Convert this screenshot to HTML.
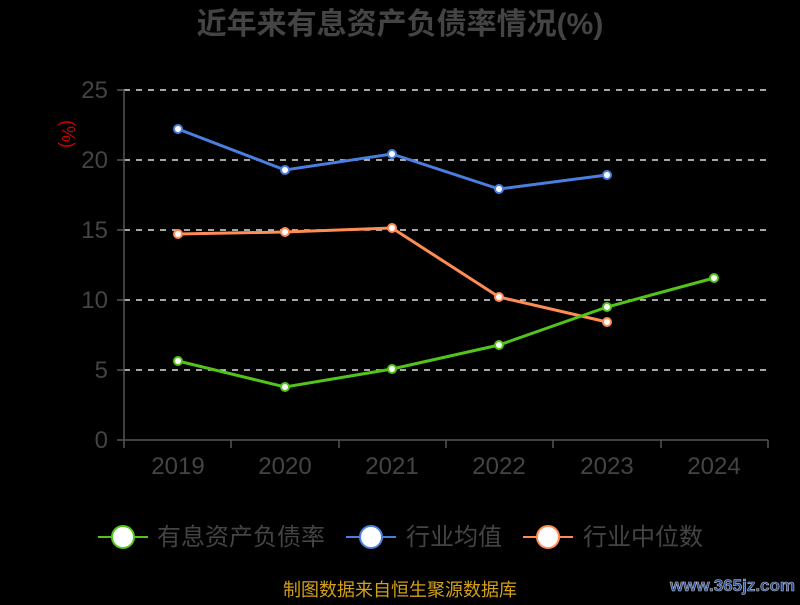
<!DOCTYPE html>
<html><head><meta charset="utf-8"><style>
body{margin:0;background:#000;width:800px;height:600px;overflow:hidden}
text{font-family:"Liberation Sans","Noto Sans CJK SC",sans-serif}
</style></head><body>
<svg width="800" height="600" xmlns="http://www.w3.org/2000/svg">
<text x="400" y="34" text-anchor="middle" font-size="30" font-weight="bold" fill="#444">近年来有息资产负债率情况(%)</text>
<text x="70" y="126" font-size="18" fill="#c00" transform="rotate(90 62 126)" text-anchor="middle">(%)</text>
<g stroke="#ddd" stroke-width="1.5" stroke-dasharray="6,6">
<line x1="124" y1="90" x2="768" y2="90"/><line x1="124" y1="160" x2="768" y2="160"/><line x1="124" y1="230" x2="768" y2="230"/><line x1="124" y1="300" x2="768" y2="300"/><line x1="124" y1="370" x2="768" y2="370"/>
</g>
<g stroke="#555" stroke-width="1.5">
<line x1="124" y1="90" x2="124" y2="440"/><line x1="124" y1="440" x2="768" y2="440"/>
<line x1="117" y1="90" x2="124" y2="90"/><line x1="117" y1="160" x2="124" y2="160"/><line x1="117" y1="230" x2="124" y2="230"/><line x1="117" y1="300" x2="124" y2="300"/><line x1="117" y1="370" x2="124" y2="370"/><line x1="117" y1="440" x2="124" y2="440"/>
<line x1="124" y1="440" x2="124" y2="448"/><line x1="231" y1="440" x2="231" y2="448"/><line x1="339" y1="440" x2="339" y2="448"/><line x1="446" y1="440" x2="446" y2="448"/><line x1="553" y1="440" x2="553" y2="448"/><line x1="661" y1="440" x2="661" y2="448"/><line x1="768" y1="440" x2="768" y2="448"/>
</g>
<g font-size="24" fill="#444" text-anchor="end">
<text x="108" y="98">25</text><text x="108" y="168">20</text><text x="108" y="238">15</text><text x="108" y="308">10</text><text x="108" y="378">5</text><text x="108" y="448">0</text>
</g>
<g font-size="24" fill="#444" text-anchor="middle">
<text x="178" y="474">2019</text><text x="285" y="474">2020</text><text x="392" y="474">2021</text><text x="499" y="474">2022</text><text x="607" y="474">2023</text><text x="714" y="474">2024</text>
</g>
<g fill="none" stroke-width="3">
<polyline stroke="#4a7fe0" points="178,129 285,170 392,154 499,189 607,175"/>
<polyline stroke="#ff8c55" points="178,234 285,232 392,228 499,297 607,322"/>
<polyline stroke="#52c41a" points="178,361 285,387 392,369 499,345 607,307 714,278"/>
</g>
<g fill="#fff" stroke-width="2">
<g stroke="#4a7fe0"><circle cx="178" cy="129" r="4"/><circle cx="285" cy="170" r="4"/><circle cx="392" cy="154" r="4"/><circle cx="499" cy="189" r="4"/><circle cx="607" cy="175" r="4"/></g>
<g stroke="#ff8c55"><circle cx="178" cy="234" r="4"/><circle cx="285" cy="232" r="4"/><circle cx="392" cy="228" r="4"/><circle cx="499" cy="297" r="4"/><circle cx="607" cy="322" r="4"/></g>
<g stroke="#52c41a"><circle cx="178" cy="361" r="4"/><circle cx="285" cy="387" r="4"/><circle cx="392" cy="369" r="4"/><circle cx="499" cy="345" r="4"/><circle cx="607" cy="307" r="4"/><circle cx="714" cy="278" r="4"/></g>
</g>
<g stroke-width="2">
<line x1="98" y1="537" x2="148" y2="537" stroke="#52c41a"/><circle cx="123" cy="537" r="11" fill="#fff" stroke="#52c41a"/>
<line x1="346" y1="537" x2="396" y2="537" stroke="#4a7fe0"/><circle cx="371" cy="537" r="11" fill="#fff" stroke="#4a7fe0"/>
<line x1="523" y1="537" x2="573" y2="537" stroke="#ff8c55"/><circle cx="548" cy="537" r="11" fill="#fff" stroke="#ff8c55"/>
</g>
<g font-size="24" fill="#444">
<text x="157" y="545">有息资产负债率</text><text x="406" y="545">行业均值</text><text x="583" y="545">行业中位数</text>
</g>
<text x="400" y="596" text-anchor="middle" font-size="18" fill="#d4a017">制图数据来自恒生聚源数据库</text>
<text x="795" y="591" text-anchor="end" font-size="17" font-weight="bold" fill="#2a4d9b" stroke="#bbb" stroke-width="0.6">www.365jz.com</text>
</svg>
</body></html>
